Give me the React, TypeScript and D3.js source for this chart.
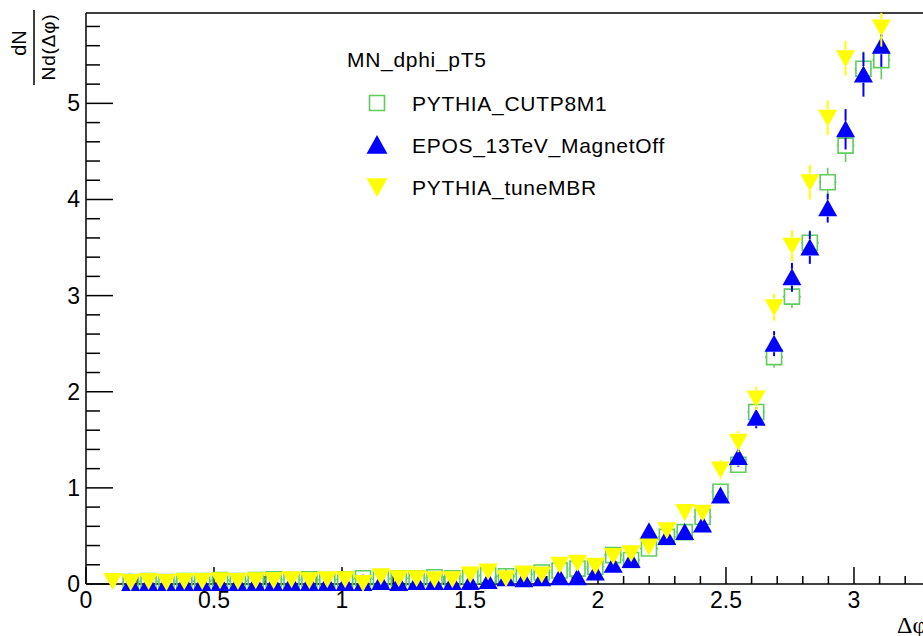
import React from "react";
import * as d3 from "d3";

// Histogram binning: 45 bins over [0, pi]; bins 1..44 are listed below.
const N_BINS = 45;
const PHI_MAX = Math.PI;
const FIRST_BIN = 1;

const legendHeader = "MN_dphi_pT5";
const seriesNames = ["PYTHIA_CUTP8M1", "EPOS_13TeV_MagnetOff", "PYTHIA_tuneMBR"];

// dN / N d(dphi) per bin, bins 1..44 (null = no entry)
const cutp8m1Values = [
  null, 0.02, 0.03, 0.02, 0.03, 0.03, 0.04, 0.03, 0.04, 0.05, 0.04, 0.05, 0.04, 0.05,
  0.06, 0.05, 0.06, 0.06, 0.07, 0.06, 0.08, 0.09, 0.08, 0.1, 0.12, 0.14, 0.16, 0.18,
  0.3, 0.25, 0.37, 0.49, 0.54, 0.7, 0.96, 1.24, 1.79, 2.36, 2.99, 3.55, 4.18, 4.56,
  5.36, 5.45,
];
const cutp8m1Errors = [
  0, 0.01, 0.01, 0.01, 0.01, 0.01, 0.01, 0.01, 0.01, 0.01, 0.01, 0.01, 0.01, 0.01,
  0.01, 0.01, 0.01, 0.01, 0.02, 0.02, 0.02, 0.02, 0.02, 0.02, 0.02, 0.02, 0.03, 0.03,
  0.04, 0.04, 0.05, 0.05, 0.05, 0.06, 0.07, 0.08, 0.09, 0.11, 0.12, 0.13, 0.15, 0.17,
  0.18, 0.2,
];

const eposValues = [
  null, 0.01, 0.01, 0.01, 0.01, 0.01, 0.01, 0.01, 0.01, 0.01, 0.01, 0.01, 0.01, 0.01,
  0.01, 0.02, 0.01, 0.02, 0.02, 0.02, 0.02, 0.03, 0.06, 0.05, 0.06, 0.07, 0.07, 0.12,
  0.2, 0.25, 0.55, 0.49, 0.54, 0.62, 0.92, 1.32, 1.73, 2.5, 3.19, 3.5, 3.91, 4.73,
  5.3, 5.6,
];
const eposErrors = [
  0, 0.01, 0.01, 0.01, 0.01, 0.01, 0.01, 0.01, 0.01, 0.01, 0.01, 0.01, 0.01, 0.01,
  0.01, 0.01, 0.01, 0.01, 0.02, 0.02, 0.02, 0.02, 0.02, 0.02, 0.02, 0.03, 0.03, 0.03,
  0.04, 0.04, 0.06, 0.06, 0.06, 0.07, 0.08, 0.1, 0.11, 0.13, 0.15, 0.17, 0.15, 0.21,
  0.23, 0.22,
];

const tuneMBRValues = [
  0.03, 0.02, 0.03, 0.02, 0.03, 0.03, 0.04, 0.03, 0.04, 0.04, 0.05, 0.04, 0.05, 0.05,
  0.01, 0.08, 0.06, 0.06, 0.05, 0.05, 0.1, 0.13, 0.06, 0.11, 0.1, 0.2, 0.22, 0.19,
  0.29, 0.32, 0.39, 0.56, 0.75, 0.74, 1.19, 1.48, 1.93, 2.88, 3.52, 4.18, 4.85, 5.47,
  null, 5.79,
];
const tuneMBRErrors = [
  0.01, 0.01, 0.01, 0.01, 0.01, 0.01, 0.01, 0.01, 0.01, 0.01, 0.01, 0.01, 0.01, 0.01,
  0.01, 0.02, 0.02, 0.02, 0.02, 0.02, 0.02, 0.02, 0.02, 0.02, 0.02, 0.03, 0.03, 0.04,
  0.05, 0.05, 0.06, 0.07, 0.08, 0.08, 0.1, 0.11, 0.12, 0.14, 0.16, 0.18, 0.18, 0.18,
  0, 0.2,
];

const xMajorTicks = [0, 0.5, 1, 1.5, 2, 2.5, 3];
const xTickLabels = ["0", "0.5", "1", "1.5", "2", "2.5", "3"];
const yMajorTicks = [0, 1, 2, 3, 4, 5];
const yTickLabels = ["0", "1", "2", "3", "4", "5"];

const X_DOMAIN: [number, number] = [0, 3.3];
const Y_DOMAIN: [number, number] = [0, 5.94];

const W = 923;
const H = 636;
const FRAME = { left: 86, top: 13, bottom: 584 };
const PX_PER_UNIT = 256;

const GREEN = "#5dcd5d";
const BLUE = "#0000ff";
const YELLOW = "#ffff00";
const SANS = "'Liberation Sans', Arial, Helvetica, sans-serif";
const SERIF = "'Liberation Serif', 'Times New Roman', serif";

type Marker = "square" | "up" | "down";

const x = d3
  .scaleLinear()
  .domain(X_DOMAIN)
  .range([FRAME.left, FRAME.left + (X_DOMAIN[1] - X_DOMAIN[0]) * PX_PER_UNIT]);
const y = d3.scaleLinear().domain(Y_DOMAIN).range([FRAME.bottom, FRAME.top]);

const binWidth = PHI_MAX / N_BINS;
const binCenter = (i: number) => (i + 0.5) * binWidth;

function markerPath(kind: Marker, cx: number, cy: number): string {
  const p = d3.path();
  if (kind === "square") {
    p.rect(cx - 7.5, cy - 7.5, 15, 15);
  } else if (kind === "up") {
    p.moveTo(cx, cy - 9);
    p.lineTo(cx - 9.5, cy + 8);
    p.lineTo(cx + 9.5, cy + 8);
    p.closePath();
  } else {
    p.moveTo(cx, cy + 9);
    p.lineTo(cx - 9.5, cy - 8);
    p.lineTo(cx + 9.5, cy - 8);
    p.closePath();
  }
  return p.toString();
}

function markerStyle(kind: Marker, color: string) {
  return kind === "square"
    ? { fill: "none", stroke: color, strokeWidth: 1.6 }
    : { fill: color, stroke: "none", strokeWidth: 0 };
}

interface SeriesProps {
  values: (number | null)[];
  errors: number[];
  color: string;
  kind: Marker;
  errWidth: number;
}

function Series({ values, errors, color, kind, errWidth }: SeriesProps) {
  const halfBinPx = (x(binWidth) - x(0)) / 2;
  const halfW = kind === "square" ? 8 : 9.5;
  const halfH = kind === "square" ? 8 : 8.5;
  return (
    <g>
      {values.map((v, k) => {
        if (v === null) return null;
        const i = k + FIRST_BIN;
        const cx = x(binCenter(i));
        const cy = y(v);
        const e = errors[k];
        const yTop = Math.max(y(v + e), FRAME.top);
        const yBot = y(Math.max(v - e, 0));
        const segs: [number, number, number, number][] = [];
        if (yTop < cy - halfH) segs.push([cx, yTop, cx, cy - halfH]);
        if (yBot > cy + halfH) segs.push([cx, cy + halfH, cx, yBot]);
        if (halfBinPx > halfW) {
          segs.push([cx - halfBinPx, cy, cx - halfW, cy]);
          segs.push([cx + halfW, cy, cx + halfBinPx, cy]);
        }
        const st = markerStyle(kind, color);
        return (
          <g key={k}>
            {segs.map((s, j) => (
              <line key={j} x1={s[0]} y1={s[1]} x2={s[2]} y2={s[3]} stroke={color} strokeWidth={errWidth} />
            ))}
            <path d={markerPath(kind, cx, cy)} fill={st.fill} stroke={st.stroke} strokeWidth={st.strokeWidth} />
          </g>
        );
      })}
    </g>
  );
}

function Axes() {
  const xRight = x.range()[1];
  const xMinor = d3.range(0, X_DOMAIN[1] + 1e-9, 0.1).filter((t) => Math.abs(t * 2 - Math.round(t * 2)) > 1e-6);
  const yMinor = d3.range(0, Y_DOMAIN[1] + 1e-9, 0.2).filter((t) => Math.abs(t - Math.round(t)) > 1e-6);
  return (
    <g stroke="#000" strokeWidth={1.5}>
      <line x1={FRAME.left} y1={FRAME.top} x2={xRight} y2={FRAME.top} />
      <line x1={FRAME.left} y1={FRAME.top} x2={FRAME.left} y2={FRAME.bottom} />
      <line x1={FRAME.left} y1={FRAME.bottom} x2={xRight} y2={FRAME.bottom} />
      {xMajorTicks.map((t) => (
        <line key={"xM" + t} x1={x(t)} x2={x(t)} y1={FRAME.bottom} y2={FRAME.bottom - 17} />
      ))}
      {xMinor.map((t) => (
        <line key={"xm" + t} x1={x(t)} x2={x(t)} y1={FRAME.bottom} y2={FRAME.bottom - 8} />
      ))}
      {yMajorTicks.map((t) => (
        <line key={"yM" + t} x1={FRAME.left} x2={FRAME.left + 27} y1={y(t)} y2={y(t)} />
      ))}
      {yMinor.map((t) => (
        <line key={"ym" + t} x1={FRAME.left} x2={FRAME.left + 14} y1={y(t)} y2={y(t)} />
      ))}
    </g>
  );
}

function Labels() {
  return (
    <g fontFamily={SANS} fontSize={23} fill="#000">
      {xMajorTicks.map((t, k) => (
        <text key={"xl" + t} x={x(t)} y={608} textAnchor="middle">
          {xTickLabels[k]}
        </text>
      ))}
      {yMajorTicks.map((t, k) => (
        <text key={"yl" + t} x={80} y={y(t) + 8} textAnchor="end">
          {yTickLabels[k]}
        </text>
      ))}
      <text x={897} y={633} fontFamily={SERIF} fontSize={24}>
        Δφ
      </text>
      {/* y-axis title as a rotated fraction */}
      <text transform="translate(26,43) rotate(-90)" textAnchor="middle" fontSize={20}>
        dN
      </text>
      <line x1={34} x2={34} y1={10} y2={85} stroke="#000" strokeWidth={1.5} />
      <text transform="translate(55,47) rotate(-90)" textAnchor="middle" fontSize={19} letterSpacing={0.8}>
        Nd(Δφ)
      </text>
    </g>
  );
}

function Legend() {
  const mx = 377;
  const tx = 412;
  const rows = [103, 145, 187];
  const kinds: Marker[] = ["square", "up", "down"];
  const colors = [GREEN, BLUE, YELLOW];
  return (
    <g fontFamily={SANS} fontSize={21} letterSpacing={0.7} fill="#000">
      <text x={347} y={67}>
        {legendHeader}
      </text>
      {seriesNames.map((name, k) => {
        const st = markerStyle(kinds[k], colors[k]);
        const big = kinds[k] === "square" ? 1 : 1.1;
        return (
          <g key={name}>
            <path
              d={markerPath(kinds[k], 0, 0)}
              transform={`translate(${mx},${rows[k]}) scale(${big})`}
              fill={st.fill}
              stroke={st.stroke}
              strokeWidth={st.strokeWidth}
            />
            <text x={tx} y={rows[k] + 7.5}>
              {name}
            </text>
          </g>
        );
      })}
    </g>
  );
}

export default function App() {
  return (
    <svg
      width={W}
      height={H}
      viewBox={`0 0 ${W} ${H}`}
      style={{ position: "absolute", left: 0, top: 0, background: "#fff" }}
    >
      <rect width={W} height={H} fill="#fff" />
      <Axes />
      <Series values={cutp8m1Values} errors={cutp8m1Errors} color={GREEN} kind="square" errWidth={1.6} />
      <Series values={eposValues} errors={eposErrors} color={BLUE} kind="up" errWidth={2} />
      <Series values={tuneMBRValues} errors={tuneMBRErrors} color={YELLOW} kind="down" errWidth={2} />
      <Labels />
      <Legend />
    </svg>
  );
}
